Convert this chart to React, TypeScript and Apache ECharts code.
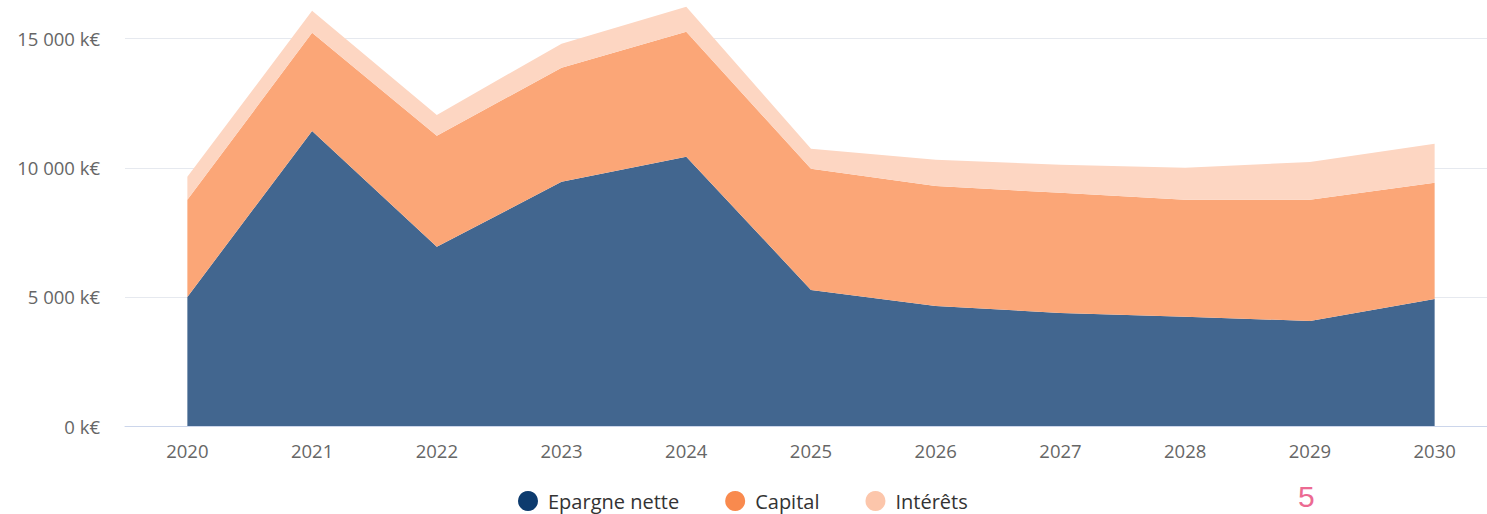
import React, { useEffect, useRef } from "react";
import * as echarts from "echarts";

const years = ["2020", "2021", "2022", "2023", "2024", "2025", "2026", "2027", "2028", "2029", "2030"];
const epargneNette = [5000, 11430, 6940, 9460, 10430, 5270, 4650, 4380, 4230, 4070, 4920];
const capital = [3760, 3800, 4300, 4420, 4840, 4690, 4650, 4650, 4530, 4690, 4500];
const interets = [890, 850, 810, 930, 970, 780, 1010, 1090, 1240, 1470, 1510];
const yTicks = [0, 5000, 10000, 15000];

const fmt = (v: number) => {
  const s = String(Math.round(v));
  return s.replace(/\B(?=(\d{3})+(?!\d))/g, " ") + " k€";
};

export default function App() {
  const ref = useRef<HTMLDivElement>(null);
  useEffect(() => {
    if (!ref.current) return;
    const chart = echarts.init(ref.current, undefined, { renderer: "svg" });
    const font = "'Open Sans', 'Noto Sans', sans-serif";
    chart.setOption({
      animation: false,
      backgroundColor: "#ffffff",
      grid: { left: 125, right: 0, top: 0, bottom: 88, containLabel: false },
      xAxis: {
        type: "category",
        data: years,
        boundaryGap: true,
        axisLine: { show: true, lineStyle: { color: "#ccd6eb", width: 1 } },
        axisTick: { show: false },
        axisLabel: { color: "#666666", fontSize: 18.5, fontFamily: font, margin: 15 },
        splitLine: { show: false },
      },
      yAxis: {
        type: "value",
        min: 0,
        max: 16500,
        interval: 5000,
        axisLine: { show: false },
        axisTick: { show: false },
        axisLabel: {
          color: "#666666",
          fontSize: 18.5,
          fontFamily: font,
          margin: 25,
          showMaxLabel: false,
          formatter: (v: number) => (yTicks.includes(v) ? fmt(v) : ""),
        },
        splitLine: { show: true, showMaxLine: false, lineStyle: { color: "#e6e9ef", width: 1 } },
      },
      legend: {
        left: 518,
        top: 491,
        padding: 0,
        icon: "circle",
        itemWidth: 20,
        itemHeight: 20,
        itemGap: 46,
        textStyle: { color: "#333333", fontSize: 20, lineHeight: 20, fontFamily: font, padding: [0, 0, 0, 5] },
        data: ["Epargne nette", "Capital", "Intérêts"],
      },
      graphic: [
        {
          type: "text",
          left: 1298,
          top: 481,
          style: { text: "5", fill: "#ec6a92", fontSize: 30, fontFamily: "'Liberation Sans', Arial, sans-serif" },
        },
      ],
      series: [
        {
          name: "Epargne nette",
          type: "line",
          stack: "total",
          data: epargneNette,
          symbol: "none",
          lineStyle: { width: 0 },
          itemStyle: { color: "#0d3b6e" },
          areaStyle: { color: "#42668f", opacity: 1 },
        },
        {
          name: "Capital",
          type: "line",
          stack: "total",
          data: capital,
          symbol: "none",
          lineStyle: { width: 0 },
          itemStyle: { color: "#f98a4e" },
          areaStyle: { color: "#fba677", opacity: 1 },
        },
        {
          name: "Intérêts",
          type: "line",
          stack: "total",
          data: interets,
          symbol: "none",
          lineStyle: { width: 0 },
          itemStyle: { color: "#fcc6ab" },
          areaStyle: { color: "#fdd6c2", opacity: 1 },
        },
      ],
    });
    return () => chart.dispose();
  }, []);
  return (
    <div style={{ position: "absolute", left: 0, top: 0, width: 1487, height: 514, overflow: "hidden" }}>
      <div ref={ref} style={{ width: 1497, height: 514 }} />
    </div>
  );
}
